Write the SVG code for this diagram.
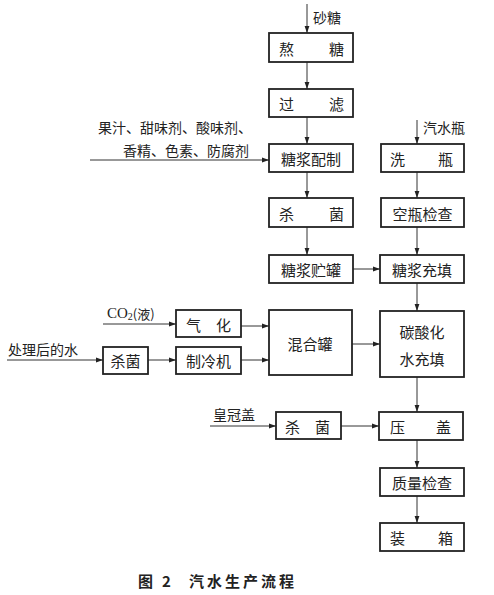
<svg xmlns="http://www.w3.org/2000/svg" width="494" height="595" viewBox="0 0 494 595">
<defs>
<marker id="ah" markerWidth="8" markerHeight="6" refX="7" refY="3" orient="auto" markerUnits="userSpaceOnUse">
<path d="M0,0.6 L7,3 L0,5.4 Z" fill="#222"/>
</marker>
<style>
.box{fill:#fff;stroke:#222;stroke-width:1.8}
.ln{stroke:#333;stroke-width:1;fill:none;marker-end:url(#ah)}
text{font-family:"Noto Sans CJK SC","Noto Sans CJK JP",sans-serif;font-size:15px;fill:#222;dominant-baseline:central}
.c{text-anchor:middle}
.lab{font-size:14px}
.cap{font-size:15px;font-weight:bold;letter-spacing:3px}
</style>
</defs>
<rect width="494" height="595" fill="#fff"/>
<g id="connectors">
<line class="ln" x1="307" y1="4" x2="307" y2="33"/>
<line class="ln" x1="307" y1="62" x2="307" y2="89"/>
<line class="ln" x1="307" y1="117" x2="307" y2="144"/>
<line class="ln" x1="90" y1="160" x2="269" y2="160"/>
<line class="ln" x1="307" y1="172" x2="307" y2="198"/>
<line class="ln" x1="307" y1="227" x2="307" y2="255"/>
<line class="ln" x1="417" y1="120" x2="417" y2="144"/>
<line class="ln" x1="417" y1="172" x2="417" y2="198"/>
<line class="ln" x1="417" y1="227" x2="417" y2="255"/>
<line class="ln" x1="353" y1="269" x2="380" y2="269"/>
<line class="ln" x1="417" y1="283" x2="417" y2="311"/>
<line class="ln" x1="103" y1="324" x2="176" y2="324"/>
<line class="ln" x1="7" y1="360" x2="103" y2="360"/>
<line class="ln" x1="148" y1="360" x2="176" y2="360"/>
<line class="ln" x1="241" y1="326" x2="269" y2="326"/>
<line class="ln" x1="241" y1="360" x2="269" y2="360"/>
<line class="ln" x1="352" y1="344" x2="380" y2="344"/>
<line class="ln" x1="417" y1="377" x2="417" y2="412"/>
<line class="ln" x1="210" y1="426" x2="276" y2="426"/>
<line class="ln" x1="341" y1="426" x2="379" y2="426"/>
<line class="ln" x1="417" y1="440" x2="417" y2="468"/>
<line class="ln" x1="417" y1="496" x2="417" y2="523"/>
</g>
<g id="labels">
<text class="lab" x="313" y="17">砂糖</text>
<text class="lab" x="423" y="127">汽水瓶</text>
<text class="lab" x="98" y="127">果汁、甜味剂、酸味剂、</text>
<text class="lab" x="123" y="150">香精、色素、防腐剂</text>
<text class="lab" x="107" y="313" style="font-family:'Liberation Serif','Noto Sans CJK SC',serif;font-size:15px">CO<tspan font-size="10" dy="3">2</tspan><tspan dy="-3" style="font-family:'Noto Sans CJK SC',sans-serif;font-size:13px">(液)</tspan></text>
<text class="lab" x="8" y="349">处理后的水</text>
<text class="lab" x="213" y="414">皇冠盖</text>
</g>
<g id="n-aotang"><rect class="box" x="269" y="33" width="84" height="29"/><text y="48"><tspan x="279">熬</tspan><tspan x="329">糖</tspan></text></g>
<g id="n-guolv"><rect class="box" x="269" y="89" width="84" height="28"/><text y="103"><tspan x="279">过</tspan><tspan x="329">滤</tspan></text></g>
<g id="n-peizhi"><rect class="box" x="269" y="144" width="84" height="28"/><text class="c" x="311" y="158">糖浆配制</text></g>
<g id="n-shajun1"><rect class="box" x="269" y="198" width="84" height="29"/><text y="213"><tspan x="279">杀</tspan><tspan x="329">菌</tspan></text></g>
<g id="n-zhuguan"><rect class="box" x="269" y="255" width="84" height="28"/><text class="c" x="311" y="269">糖浆贮罐</text></g>
<g id="n-xiping"><rect class="box" x="381" y="144" width="83" height="28"/><text y="158"><tspan x="390">洗</tspan><tspan x="438">瓶</tspan></text></g>
<g id="n-kongping"><rect class="box" x="381" y="198" width="83" height="29"/><text class="c" x="422.5" y="213">空瓶检查</text></g>
<g id="n-chongtian"><rect class="box" x="380" y="255" width="84" height="28"/><text class="c" x="422" y="269">糖浆充填</text></g>
<g id="n-qihua"><rect class="box" x="176" y="310" width="65" height="27"/><text y="324"><tspan x="186">气</tspan><tspan x="216">化</tspan></text></g>
<g id="n-shajun2"><rect class="box" x="103" y="347" width="45" height="27"/><text class="c" x="125.5" y="360.5">杀菌</text></g>
<g id="n-zhilengji"><rect class="box" x="176" y="347" width="65" height="27"/><text class="c" x="208.5" y="360.5">制冷机</text></g>
<g id="n-hunhe"><rect class="box" x="269" y="310" width="83" height="65"/><text class="c" x="310" y="343">混合罐</text></g>
<g id="n-tansuan"><rect class="box" x="380" y="311" width="84" height="66"/><text class="c" x="422" y="331">碳酸化</text><text class="c" x="422" y="358">水充填</text></g>
<g id="n-shajun3"><rect class="box" x="276" y="412" width="65" height="27"/><text y="426"><tspan x="285">杀</tspan><tspan x="315">菌</tspan></text></g>
<g id="n-yagai"><rect class="box" x="379" y="412" width="84" height="28"/><text y="426"><tspan x="390">压</tspan><tspan x="436">盖</tspan></text></g>
<g id="n-zhiliang"><rect class="box" x="380" y="468" width="84" height="28"/><text class="c" x="422" y="482">质量检查</text></g>
<g id="n-zhuangxiang"><rect class="box" x="380" y="523" width="84" height="28"/><text y="537"><tspan x="390">装</tspan><tspan x="438">箱</tspan></text></g>
<g id="caption"><text class="cap" x="138" y="580">图<tspan x="162">2</tspan><tspan x="189">汽水生产流程</tspan></text></g>
</svg>
